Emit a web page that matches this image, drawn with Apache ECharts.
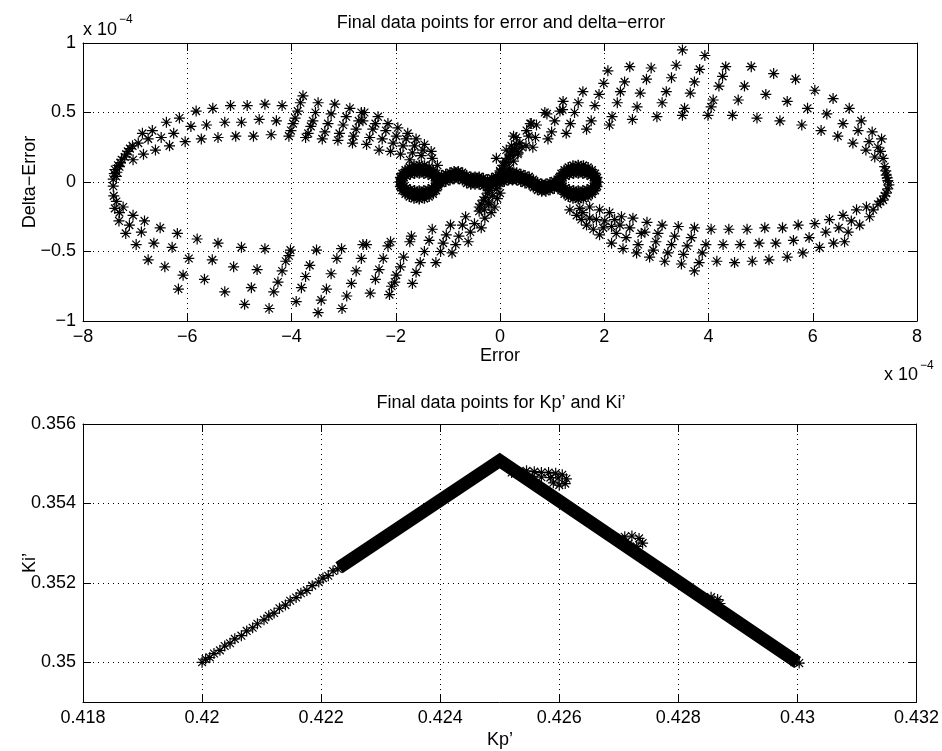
<!DOCTYPE html>
<html>
<head>
<meta charset="utf-8">
<script src="https://cdn.jsdelivr.net/npm/echarts@6/dist/echarts.min.js"></script>
<style>html,body{margin:0;padding:0;background:#fff}#c{width:942px;height:751px}</style>
</head>
<body>
<div id="c"></div>
<script>
// ---------------- DATA (top panel, values in units of 1e-4) ----------------
const errTicks = [-8, -6, -4, -2, 0, 2, 4, 6, 8];
const dErrTicks = [-1, -0.5, 0, 0.5, 1];

const lobeLeftUpper = [
[-5.83,0.51],[-5.51,0.53],[-5.17,0.55],[-4.85,0.55],[-4.51,0.56],[-4.18,0.55],
[-3.78,0.62],[-3.83,0.57],[-3.88,0.51],[-3.93,0.46],[-3.97,0.42],[-4.01,0.37],
[-3.49,0.57],[-3.54,0.50],[-3.59,0.44],[-3.63,0.40],[-3.68,0.35],
[-3.17,0.56],[-3.24,0.49],[-3.30,0.42],[-3.36,0.36],
[-2.88,0.53],[-2.95,0.47],[-3.01,0.41],[-3.08,0.35],
[-2.66,0.50],[-2.71,0.44],[-2.76,0.38],[-2.81,0.33],
[-6.40,0.43],[-6.15,0.46],[-5.93,0.40],[-5.63,0.41],[-5.28,0.43],[-4.96,0.43],[-4.62,0.45],[-4.29,0.44],
[-6.86,0.35],[-6.67,0.37],[-6.50,0.32],[-6.26,0.35],[-6.04,0.29],[-5.73,0.31],[-5.41,0.32],[-5.07,0.33],
[-4.73,0.33],[-4.39,0.34],[-4.05,0.33],[-3.73,0.32],[-3.41,0.31],[-3.11,0.30],[-2.83,0.28],
[-6.75,0.31],[-6.94,0.28],[-7.05,0.26],[-7.14,0.22],[-6.84,0.20],[-6.61,0.23],[-6.34,0.26],[-7.04,0.16],
[-7.20,0.18],[-7.26,0.16],[-7.30,0.11],[-7.33,0.12],[-7.39,0.09],[-7.36,0.04],[-7.42,0.02],[-7.40,0.06],
[-7.35,0.07],[-7.28,0.14],[-7.17,0.20],[-7.10,0.24]
];

const lobeLeftInner = [
[-2.60,0.50],[-2.34,0.47],[-2.15,0.42],[-1.96,0.39],[-1.77,0.35],[-1.61,0.31],[-1.45,0.27],[-1.32,0.22],
[-2.63,0.44],[-2.39,0.42],[-2.44,0.38],[-2.50,0.32],[-2.56,0.27],
[-2.19,0.37],[-2.26,0.31],[-2.32,0.23],
[-1.99,0.33],[-2.05,0.28],[-2.10,0.22],
[-1.80,0.31],[-1.86,0.26],[-1.91,0.20],
[-1.64,0.26],[-1.68,0.21],[-1.73,0.16],
[-1.48,0.23],[-1.51,0.19],[-1.30,0.17],[-1.20,0.12]
];

const lobeLeftLower = [
[-7.42,-0.03],[-7.41,-0.10],[-7.36,-0.14],[-7.39,-0.19],[-7.23,-0.18],[-7.30,-0.22],[-7.31,-0.28],
[-7.04,-0.24],[-7.11,-0.31],[-7.18,-0.37],[-6.82,-0.28],[-6.88,-0.36],[-6.98,-0.45],
[-6.52,-0.33],[-6.64,-0.44],[-6.75,-0.56],[-6.19,-0.37],[-6.29,-0.47],[-6.43,-0.61],
[-5.81,-0.41],[-5.97,-0.55],[-6.08,-0.67],[-6.17,-0.77],[-5.41,-0.44],[-5.52,-0.56],[-5.67,-0.70],
[-4.96,-0.47],[-5.11,-0.61],[-5.28,-0.79],[-4.51,-0.48],[-4.66,-0.63],[-4.77,-0.76],[-4.90,-0.88],
[-4.43,-0.91],[-4.34,-0.79],[-4.26,-0.72],[-4.18,-0.64],[-4.11,-0.57],[-4.05,-0.53],[-4.02,-0.49],
[-3.91,-0.86],[-3.81,-0.76],[-3.73,-0.68],[-3.65,-0.60],[-3.52,-0.49],
[-3.49,-0.94],[-3.43,-0.85],[-3.33,-0.77],[-3.24,-0.66],[-3.13,-0.55],[-3.04,-0.48],
[-3.03,-0.91],[-2.94,-0.82],[-2.85,-0.73],[-2.76,-0.64],[-2.66,-0.55],[-2.63,-0.45],
[-2.56,-0.45],[-2.49,-0.80],[-2.39,-0.70],[-2.32,-0.63],[-2.24,-0.55],[-2.15,-0.46],[-2.10,-0.43],
[-2.12,-0.81],[-2.08,-0.75],[-2.02,-0.72],[-1.99,-0.67],[-1.91,-0.61],[-1.85,-0.54],[-1.73,-0.43],[-1.70,-0.39],
[-1.68,-0.73],[-1.61,-0.65],[-1.53,-0.58],[-1.45,-0.50],[-1.36,-0.42],[-1.30,-0.34],
[-1.23,-0.58],[-1.14,-0.50],[-1.09,-0.44],[-1.03,-0.38],[-0.95,-0.31],
[-0.92,-0.51],[-0.85,-0.45],[-0.79,-0.39],[-0.72,-0.31],[-0.66,-0.25],
[-0.61,-0.43],[-0.57,-0.36],[-0.49,-0.30],[-0.40,-0.21],[-0.36,-0.33],[-0.29,-0.26],[-0.21,-0.16],
[-0.17,-0.22],[-0.10,-0.18],[-0.05,-0.12],[0.00,-0.08]
];

const lobeRightUpper = [
[-0.07,0.17],[0.12,0.23],[0.31,0.32],[0.51,0.37],[0.60,0.42],[0.86,0.50],[1.21,0.58],
[0.19,0.20],[0.38,0.28],[0.55,0.33],[0.70,0.41],[1.05,0.44],[1.15,0.51],[1.50,0.57],[1.59,0.65],
[0.35,0.21],[0.50,0.26],[0.63,0.25],[0.68,0.32],[0.92,0.31],[0.99,0.36],[1.27,0.35],[1.35,0.42],[1.43,0.50],
[1.66,0.38],[1.75,0.44],[1.82,0.55],[1.90,0.63],[1.99,0.71],[2.07,0.80],
[2.10,0.41],[2.15,0.47],[2.25,0.57],[2.31,0.65],[2.39,0.72],[2.49,0.83],
[2.54,0.45],[2.63,0.54],[2.69,0.64],[2.81,0.74],[2.90,0.82],
[0.26,0.33],[0.58,0.42],[0.90,0.49],[1.20,0.52],[0.05,0.12],[0.00,0.08],[0.10,0.15],[0.22,0.26],
[3.50,0.95],[3.38,0.84],[3.29,0.75],[3.19,0.65],[3.11,0.57],[3.01,0.47],
[3.93,0.91],[3.83,0.81],[3.73,0.72],[3.65,0.64],[3.54,0.53],[3.50,0.48],
[4.33,0.83],[4.27,0.76],[4.20,0.69],[4.09,0.59],[4.05,0.54],[3.99,0.48],
[4.82,0.83],[4.69,0.69],[4.57,0.59],[4.46,0.48],
[5.25,0.78],[5.10,0.63],[4.93,0.46],
[5.67,0.74],[5.51,0.58],[5.37,0.44],
[6.04,0.66],[5.90,0.53],[5.79,0.41],
[6.39,0.60],[6.27,0.49],[6.16,0.37],
[6.70,0.53],[6.58,0.42],[6.48,0.33],
[6.93,0.44],[6.87,0.37],[6.77,0.28],
[7.14,0.36],[7.08,0.29],[7.02,0.23],
[7.32,0.31],[7.25,0.25],[7.19,0.18],[7.35,0.17],[7.30,0.22],[7.38,0.11],[7.41,0.05],[7.44,0.01],[7.40,0.08],[7.43,0.03]
];

const lobeRightLower = [
[7.46,-0.02],[7.41,-0.08],[7.35,-0.13],[7.25,-0.16],[7.16,-0.20],[7.09,-0.25],[7.03,-0.18],[7.44,-0.05],[7.38,-0.10],[7.30,-0.14],
[6.84,-0.20],[6.90,-0.31],[6.74,-0.28],[6.58,-0.24],[6.68,-0.36],[6.61,-0.43],[6.50,-0.33],[6.40,-0.44],
[6.32,-0.27],[6.25,-0.36],[6.13,-0.47],[6.04,-0.30],[5.93,-0.40],[5.81,-0.51],[5.72,-0.31],[5.63,-0.42],[5.51,-0.54],
[5.42,-0.33],[5.29,-0.44],[5.16,-0.56],[5.08,-0.33],[4.97,-0.44],[4.84,-0.57],[4.74,-0.34],[4.61,-0.45],[4.50,-0.58],
[4.39,-0.34],[4.28,-0.45],[4.16,-0.57],[4.05,-0.34],[3.95,-0.45],[3.88,-0.51],[3.82,-0.58],[3.73,-0.64],
[3.73,-0.33],[3.67,-0.40],[3.59,-0.46],[3.52,-0.52],[3.48,-0.59],
[3.42,-0.32],[3.35,-0.39],[3.29,-0.45],[3.22,-0.51],[3.16,-0.57],
[3.11,-0.31],[3.03,-0.37],[2.99,-0.43],[2.94,-0.49],[2.87,-0.54],[2.82,-0.29],[2.78,-0.36],
[1.34,-0.20],[1.47,-0.24],[1.56,-0.27],[1.66,-0.31],[1.79,-0.34],[1.91,-0.38],[2.10,-0.22],[2.14,-0.44],
[2.33,-0.25],[2.30,-0.31],[2.23,-0.37],[2.36,-0.48],[2.55,-0.26],[2.49,-0.33],[2.42,-0.40],[2.62,-0.51],
[2.71,-0.37],[2.65,-0.45],[1.53,-0.19],[1.72,-0.18],[1.91,-0.20],[1.85,-0.27],[2.01,-0.28],[1.98,-0.33],
[2.14,-0.32],[2.20,-0.27],[1.72,-0.26],[1.59,-0.22]
];

const centerCross = [
[-0.40,-0.18],[-0.32,-0.13],[-0.24,-0.08],[-0.16,-0.03],[-0.08,0.02],[0.00,0.07],[0.08,0.12],[0.16,0.17],[0.24,0.22],[0.32,0.27],
[-0.30,-0.20],[-0.22,-0.15],[-0.14,-0.10],[-0.06,-0.05],[0.02,0.00],[0.10,0.05],[0.18,0.10],[0.26,0.15],[0.34,0.20],[0.42,0.25],
[-0.36,-0.16],[-0.28,-0.11],[-0.20,-0.06],[-0.12,-0.01],[0.04,0.09],[0.12,0.14],[0.20,0.19],[0.28,0.24]
];

const loopLeft = [
[-1.21,0],[-1.22,0.016],[-1.26,0.03],[-1.31,0.042],[-1.38,0.052],[-1.46,0.058],[-1.55,0.06],[-1.64,0.058],
[-1.72,0.052],[-1.79,0.042],[-1.84,0.03],[-1.88,0.016],[-1.89,0],[-1.88,-0.016],[-1.84,-0.03],[-1.79,-0.042],
[-1.72,-0.052],[-1.64,-0.058],[-1.55,-0.06],[-1.46,-0.058],[-1.38,-0.052],[-1.31,-0.042],[-1.26,-0.03],[-1.22,-0.016],
[-1.17,0],[-1.18,0.032],[-1.22,0.063],[-1.28,0.088],[-1.36,0.108],[-1.45,0.121],[-1.55,0.125],[-1.65,0.121],
[-1.74,0.108],[-1.82,0.088],[-1.88,0.063],[-1.92,0.032],[-1.93,0],[-1.92,-0.032],[-1.88,-0.063],[-1.82,-0.088],
[-1.74,-0.108],[-1.65,-0.121],[-1.55,-0.125],[-1.45,-0.121],[-1.36,-0.108],[-1.28,-0.088],[-1.22,-0.063],[-1.18,-0.032]
];

const loopRight = [
[1.84,0],[1.83,0.016],[1.79,0.03],[1.74,0.042],[1.67,0.052],[1.59,0.058],[1.50,0.06],[1.41,0.058],
[1.33,0.052],[1.26,0.042],[1.21,0.03],[1.17,0.016],[1.16,0],[1.17,-0.016],[1.21,-0.03],[1.26,-0.042],
[1.33,-0.052],[1.41,-0.058],[1.50,-0.06],[1.59,-0.058],[1.67,-0.052],[1.74,-0.042],[1.79,-0.03],[1.83,-0.016],
[1.88,0],[1.87,0.032],[1.83,0.063],[1.77,0.088],[1.69,0.108],[1.60,0.121],[1.50,0.125],[1.40,0.121],
[1.31,0.108],[1.23,0.088],[1.17,0.063],[1.13,0.032],[1.12,0],[1.13,-0.032],[1.17,-0.063],[1.23,-0.088],
[1.31,-0.108],[1.40,-0.121],[1.50,-0.125],[1.60,-0.121],[1.69,-0.108],[1.77,-0.088],[1.83,-0.063],[1.87,-0.032]
];

// dense core of the two small loops (traced path, drawn as a thick trail)
const loopLeftCore = [
[-1.19,0],[-1.24,0.046],[-1.37,0.080],[-1.55,0.092],[-1.73,0.080],[-1.86,0.046],[-1.91,0],
[-1.86,-0.046],[-1.73,-0.080],[-1.55,-0.092],[-1.37,-0.080],[-1.24,-0.046],[-1.19,0]
];
const loopRightCore = [
[1.86,0],[1.81,0.046],[1.68,0.080],[1.50,0.092],[1.32,0.080],[1.19,0.046],[1.14,0],
[1.19,-0.046],[1.32,-0.080],[1.50,-0.092],[1.68,-0.080],[1.81,-0.046],[1.86,0]
];

const bridgeX = [-1.20,-1.12,-1.04,-0.96,-0.88,-0.80,-0.72,-0.64,-0.56,-0.48,-0.40,-0.32,-0.24,-0.16,-0.08,0.00,
  0.08,0.16,0.24,0.32,0.40,0.48,0.56,0.64,0.72,0.80,0.88,0.96,1.04,1.12,1.20];
const bridgeY = [0.02,0.02,0.03,0.04,0.05,0.05,0.04,0.02,0.01,0.01,0.01,0.00,-0.01,0.00,0.01,0.02,
  0.03,0.04,0.04,0.04,0.03,0.02,0.01,-0.01,-0.03,-0.04,-0.04,-0.03,-0.02,-0.01,-0.01];

const loopBridge = [
[-1.12,0.05],[-1.04,0.06],[-0.96,0.07],[-0.88,0.08],[-0.80,0.08],[-0.72,0.07],[-0.64,0.05],[-0.56,0.04],
[-0.48,0.04],[-0.40,0.04],[-0.32,0.03],[-0.24,0.02],[-0.16,0.03],[-0.08,0.04],[0.00,0.05],[0.08,0.06],
[0.16,0.07],[0.24,0.07],[0.32,0.07],[0.40,0.06],[0.48,0.05],[0.56,0.04],[0.64,0.02],[0.72,0.00],
[0.80,-0.01],[0.88,-0.01],[0.96,0.00],[1.04,0.01],[1.12,0.02],
[-1.12,-0.01],[-1.04,0.00],[-0.96,0.01],[-0.88,0.02],[-0.80,0.02],[-0.72,0.01],[-0.64,-0.01],[-0.56,-0.02],
[-0.48,-0.02],[-0.40,-0.02],[-0.32,-0.03],[-0.24,-0.04],[-0.16,-0.03],[-0.08,-0.02],[0.00,-0.01],[0.08,0.00],
[0.16,0.01],[0.24,0.01],[0.32,0.01],[0.40,0.00],[0.48,-0.01],[0.56,-0.02],[0.64,-0.04],[0.72,-0.06],
[0.80,-0.07],[0.88,-0.07],[0.96,-0.06],[1.04,-0.05],[1.12,-0.04]
];

// ---------------- DATA (bottom panel) ----------------
const kpTicks = [0.418, 0.42, 0.422, 0.424, 0.426, 0.428, 0.43, 0.432];
const kiTicks = [0.35, 0.352, 0.354, 0.356];

const kpThin = [0.42000,0.42006,0.42013,0.42020,0.42030,0.42038,0.42047,0.42055,0.42066,0.42075,0.42085,0.42093,
  0.42104,0.42112,0.42121,0.42130,0.42140,0.42148,0.42158,0.42166,0.42176,0.42185,0.42196,0.42203,0.42212,0.42220,0.42228,0.42236];
const kiThin = [0.35000,0.35008,0.35012,0.35022,0.35030,0.35041,0.35048,0.35059,0.35067,0.35079,0.35087,0.35097,
  0.35107,0.35117,0.35124,0.35136,0.35144,0.35155,0.35163,0.35174,0.35181,0.35193,0.35202,0.35212,0.35218,0.35230,0.35235,0.35246];

const kpBand = [0.42230, 0.42500, 0.43000];
const kiBand = [0.35238, 0.35508, 0.35000];

const kpBlob = [0.42520,0.42532,0.42545,0.42558,0.42570,0.42582,0.42594,0.42605,0.42612,0.42610,0.42600,0.42590,0.42598,0.42585,0.42570,0.42555,0.42540,
  0.42700,0.42710,0.42722,0.42734,0.42740,0.42730,0.42716,0.42705,
  0.42845,0.42855,0.42866,0.42870,0.42858,
  0.42995,0.43003,0.42992];
const kiBlob = [0.35478,0.35480,0.35482,0.35480,0.35478,0.35478,0.35476,0.35472,0.35462,0.35450,0.35446,0.35452,0.35464,0.35465,0.35466,0.35468,0.35470,
  0.35310,0.35316,0.35318,0.35312,0.35300,0.35292,0.35298,0.35302,
  0.35160,0.35164,0.35158,0.35148,0.35150,
  0.35000,0.34998,0.35008];

// ---------------- CHART ----------------
const FONT = "'Liberation Sans', Arial, Helvetica, sans-serif";
const STAR = 'path://M10,0L10,20M0,10L20,10M2.93,2.93L17.07,17.07M2.93,17.07L17.07,2.93';
const minus = v => String(+(+v).toFixed(6)).replace('-', '\u2212');
const zip = (a, b) => a.map((v, i) => [v, b[i]]);

function starSeries(data, gi, size, bw) {
  return {
    type: 'scatter', xAxisIndex: gi * 2, yAxisIndex: gi * 2, data: data,
    symbol: STAR, symbolSize: size || 11, silent: true, z: 3,
    itemStyle: { color: '#000', borderColor: '#000', borderWidth: bw || 1.2, opacity: 1 }
  };
}
function trail(data, gi, width, smooth) {
  return {
    type: 'line', xAxisIndex: gi * 2, yAxisIndex: gi * 2, data: data,
    showSymbol: false, symbol: 'none', silent: true, z: 2, smooth: smooth || false,
    lineStyle: { color: '#000', width: width, cap: 'butt', join: 'miter' }
  };
}

function axis(gi, pos, min, max, interval, custom, main) {
  const a = {
    gridIndex: gi, type: 'value', position: pos, min: min, max: max,
    axisLine: { show: true, onZero: false, lineStyle: { color: '#000', width: 1 } },
    axisTick: { show: true, inside: true, length: 8, lineStyle: { color: '#000', width: 1 } },
    axisLabel: { show: main, color: '#000', fontSize: 18, fontFamily: FONT, margin: 7, formatter: minus,
                 showMinLabel: true, showMaxLabel: true },
    splitLine: { show: main, lineStyle: { color: '#000', width: 1, type: [1, 4] } }
  };
  if (interval) a.interval = interval;
  if (custom) { a.axisTick.customValues = custom; a.axisLabel.customValues = custom; }
  return a;
}

const chart = echarts.init(document.getElementById('c'), null, { renderer: 'canvas' });

function txt(x, y, text, size, align, rot) {
  return { type: 'text', x: x, y: y, rotation: rot || 0, silent: true, z: 10,
    style: { text: text, fontSize: size, fontFamily: FONT, fill: '#000', align: align || 'center', verticalAlign: 'middle' } };
}

chart.setOption({
  animation: false,
  backgroundColor: '#fff',
  grid: [
    { left: 83, top: 43, width: 834, height: 278, show: false },
    { left: 83, top: 424, width: 834, height: 278, show: false }
  ],
  xAxis: [
    axis(0, 'bottom', errTicks[0], errTicks[errTicks.length - 1], 2, null, true),
    axis(0, 'top', errTicks[0], errTicks[errTicks.length - 1], 2, null, false),
    axis(1, 'bottom', kpTicks[0], kpTicks[kpTicks.length - 1], 0.002, null, true),
    axis(1, 'top', kpTicks[0], kpTicks[kpTicks.length - 1], 0.002, null, false)
  ],
  yAxis: [
    axis(0, 'left', dErrTicks[0], dErrTicks[dErrTicks.length - 1], 0.5, null, true),
    axis(0, 'right', dErrTicks[0], dErrTicks[dErrTicks.length - 1], 0.5, null, false),
    axis(1, 'left', 0.349, 0.356, null, kiTicks, true),
    axis(1, 'right', 0.349, 0.356, null, kiTicks, false)
  ],
  series: [
    starSeries(lobeLeftUpper, 0),
    starSeries(lobeLeftInner, 0),
    starSeries(lobeLeftLower, 0),
    starSeries(lobeRightUpper, 0),
    starSeries(lobeRightLower, 0),
    starSeries(centerCross, 0),
    trail(loopLeftCore, 0, 9, true),
    trail(loopRightCore, 0, 9, true),
    trail(zip(bridgeX, bridgeY), 0, 11, true),
    starSeries(loopLeft, 0, 10, 1.5),
    starSeries(loopRight, 0, 10, 1.5),
    starSeries(loopBridge, 0, 10, 1.5),
    trail(zip(kpBand, kiBand), 1, 13),
    starSeries(zip(kpThin, kiThin), 1),
    starSeries(zip(kpBlob, kiBlob), 1)
  ],
  graphic: [
    txt(501, 23, 'Final data points for error and delta\u2212error', 18),
    txt(83, 30, 'x 10', 18, 'left'),
    txt(119, 20, '\u22124', 12, 'left'),
    txt(500, 356, 'Error', 18),
    txt(884, 375, 'x 10', 18, 'left'),
    txt(920, 366, '\u22124', 12, 'left'),
    txt(30, 182, 'Delta\u2212Error', 18, 'center', Math.PI / 2),
    txt(501, 403, 'Final data points for Kp\u2019 and Ki\u2019', 18),
    txt(500, 740, 'Kp\u2019', 18),
    txt(30, 563, 'Ki\u2019', 18, 'center', Math.PI / 2)
  ]
});
</script>
</body>
</html>
